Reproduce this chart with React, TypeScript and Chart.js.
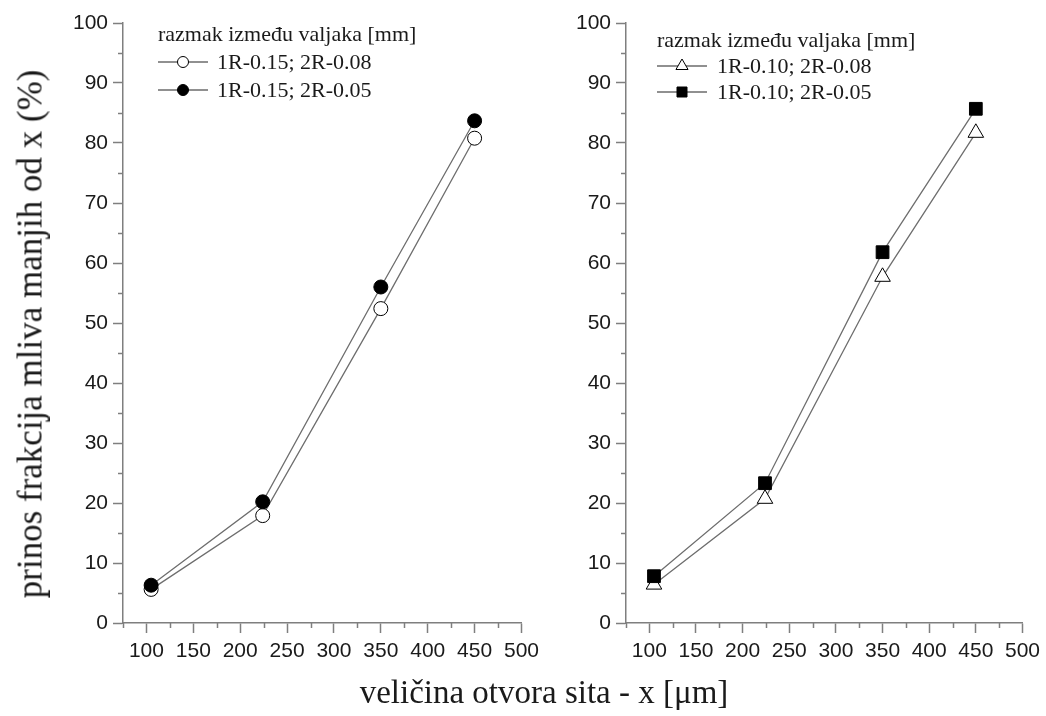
import React, { useEffect, useRef } from "react";
import { Chart, registerables } from "chart.js";

Chart.register(...registerables);

// ---- data ----
const sieveSizes = [105, 224, 350, 450];
const leftOpen = [5.6, 17.9, 52.4, 80.8];
const leftFilled = [6.3, 20.2, 56.0, 83.7];
const rightTriangle = [6.4, 20.7, 57.7, 81.7];
const rightSquare = [7.8, 23.3, 61.8, 85.7];

const xTickValues = [100, 150, 200, 250, 300, 350, 400, 450, 500];
const yTickValues = [0, 10, 20, 30, 40, 50, 60, 70, 80, 90, 100];

const legendTitle = "razmak između valjaka [mm]";
const leftLabels = ["1R-0.15; 2R-0.08", "1R-0.15; 2R-0.05"];
const rightLabels = ["1R-0.10; 2R-0.08", "1R-0.10; 2R-0.05"];

const yTitle = "prinos frakcija mliva manjih od x (%)";
const xTitle = "veličina otvora sita - x [μm]";

// ---- styling ----
const AXIS = "#7f7f7f";
const LINE = "#6e6e6e";
const TEXT = "#1a1a1a";
const SERIF = '"Liberation Serif", "Times New Roman", serif';
const SANS = '"Liberation Sans", Arial, sans-serif';

function drawMarker(ctx: CanvasRenderingContext2D, style: string, filled: boolean, x: number, y: number, r: number) {
  ctx.save();
  ctx.fillStyle = filled ? "#000" : "#fff";
  ctx.strokeStyle = "#000";
  ctx.lineWidth = 1;
  ctx.beginPath();
  if (style === "circle") {
    ctx.arc(x, y, r, 0, Math.PI * 2);
  } else if (style === "rect") {
    ctx.rect(x - r, y - r, 2 * r, 2 * r);
  } else {
    const h = r * 1.5;
    const w = r * Math.sqrt(3);
    ctx.moveTo(x, y - r);
    ctx.lineTo(x + w / 2, y - r + h);
    ctx.lineTo(x - w / 2, y - r + h);
    ctx.closePath();
  }
  ctx.fill();
  ctx.stroke();
  ctx.restore();
}

const legendPlugin = {
  id: "customLegend",
  afterDraw(chart: any, _args: any, opts: any) {
    const ctx = chart.ctx as CanvasRenderingContext2D;
    ctx.save();
    ctx.font = `${opts.fontSize}px ${SERIF}`;
    ctx.fillStyle = TEXT;
    ctx.textBaseline = "middle";
    ctx.textAlign = "left";
    ctx.fillText(opts.title, opts.x, opts.titleY);
    chart.data.datasets.forEach((ds: any, i: number) => {
      const y = opts.rowY[i];
      ctx.strokeStyle = "#222";
      ctx.lineWidth = 1.2;
      ctx.beginPath();
      ctx.moveTo(opts.x, y);
      ctx.lineTo(opts.x + opts.lineLen, y);
      ctx.stroke();
      drawMarker(ctx, ds.pointStyle, ds.pointBackgroundColor === "#000", opts.x + opts.lineLen / 2, y, opts.markerR[i]);
      ctx.fillStyle = TEXT;
      ctx.fillText(ds.label, opts.textX, y + 1);
    });
    ctx.restore();
  },
};

const minorTickPlugin = {
  id: "minorTicks",
  afterDraw(chart: any) {
    const ctx = chart.ctx as CanvasRenderingContext2D;
    const xs = chart.scales.x;
    const ys = chart.scales.y;
    const area = chart.chartArea;
    ctx.save();
    ctx.strokeStyle = AXIS;
    ctx.lineWidth = 1.5;
    const xMinor: number[] = [];
    for (let i = 0; i < xTickValues.length - 1; i++) xMinor.push((xTickValues[i] + xTickValues[i + 1]) / 2);
    const xStep = xTickValues[1] - xTickValues[0];
    if (xTickValues[0] - xStep / 2 >= xs.min) xMinor.push(xTickValues[0] - xStep / 2);
    xMinor.forEach((v) => {
      const px = Math.round(xs.getPixelForValue(v)) + 0.5;
      ctx.beginPath();
      ctx.moveTo(px, area.bottom);
      ctx.lineTo(px, area.bottom + 5);
      ctx.stroke();
    });
    for (let i = 0; i < yTickValues.length - 1; i++) {
      const v = (yTickValues[i] + yTickValues[i + 1]) / 2;
      const py = Math.round(ys.getPixelForValue(v)) + 0.5;
      ctx.beginPath();
      ctx.moveTo(area.left - 5, py);
      ctx.lineTo(area.left, py);
      ctx.stroke();
    }
    ctx.restore();
  },
};

function makeSeries(label: string, values: number[], style: string, filled: boolean, radius: number, order: number) {
  return {
    label,
    data: sieveSizes.map((x, i) => ({ x, y: values[i] })),
    borderColor: LINE,
    borderWidth: 1.3,
    pointStyle: style,
    pointRadius: radius,
    pointHoverRadius: radius,
    pointBackgroundColor: filled ? "#000" : "#fff",
    pointBorderColor: "#000",
    pointBorderWidth: 1,
    tension: 0,
    fill: false,
    order,
  };
}

function makeConfig(datasets: any[], yAxisWidth: number, padRight: number, legend: any): any {
  return {
    type: "line",
    data: { datasets },
    plugins: [legendPlugin, minorTickPlugin],
    options: {
      animation: false,
      responsive: false,
      maintainAspectRatio: false,
      events: [],
      layout: { padding: { left: 0, top: 23, right: padRight, bottom: 0 } },
      plugins: {
        legend: { display: false },
        tooltip: { enabled: false },
        title: { display: false },
        customLegend: legend,
      },
      scales: {
        x: {
          type: "linear",
          min: 75,
          max: 500,
          afterBuildTicks: (scale: any) => {
            scale.ticks = xTickValues.map((v) => ({ value: v }));
          },
          afterFit: (scale: any) => {
            scale.height = 93;
          },
          border: { display: true, color: AXIS, width: 1.5 },
          grid: { display: true, drawOnChartArea: false, drawTicks: true, tickLength: 10, tickColor: AXIS, tickWidth: 1.5 },
          ticks: { color: TEXT, font: { family: SANS, size: 21 }, padding: 6, maxRotation: 0, autoSkip: false },
        },
        y: {
          type: "linear",
          min: 0,
          max: 100,
          afterBuildTicks: (scale: any) => {
            scale.ticks = yTickValues.map((v) => ({ value: v }));
          },
          afterFit: (scale: any) => {
            scale.width = yAxisWidth;
          },
          border: { display: true, color: AXIS, width: 1.5 },
          grid: { display: true, drawOnChartArea: false, drawTicks: true, tickLength: 10, tickColor: AXIS, tickWidth: 1.5 },
          ticks: { color: TEXT, font: { family: SANS, size: 21 }, padding: 5, autoSkip: false },
        },
      },
    },
  };
}

export default function App() {
  const leftRef = useRef<HTMLCanvasElement | null>(null);
  const rightRef = useRef<HTMLCanvasElement | null>(null);

  useEffect(() => {
    const left = new Chart(
      leftRef.current as HTMLCanvasElement,
      makeConfig(
        [
          makeSeries(leftLabels[0], leftOpen, "circle", false, 7, 2),
          makeSeries(leftLabels[1], leftFilled, "circle", true, 7, 1),
        ],
        123,
        22,
        { title: legendTitle, x: 158, titleY: 35, rowY: [62, 90], lineLen: 50, textX: 217, fontSize: 22, markerR: [5.5, 5.5] }
      )
    );
    const right = new Chart(
      rightRef.current as HTMLCanvasElement,
      makeConfig(
        [
          makeSeries(rightLabels[0], rightTriangle, "triangle", false, 9, 2),
          makeSeries(rightLabels[1], rightSquare, "rect", true, 9, 1),
        ],
        81,
        21,
        { title: legendTitle, x: 112, titleY: 41, rowY: [66, 92], lineLen: 50, textX: 172, fontSize: 22, markerR: [7, 5] }
      )
    );
    return () => {
      left.destroy();
      right.destroy();
    };
  }, []);

  return (
    <div style={{ position: "fixed", left: 0, top: 0, width: 1046, height: 716, background: "#fff", overflow: "hidden" }}>
      <canvas ref={leftRef} width={545} height={716} style={{ position: "absolute", left: 0, top: 0, width: 545, height: 716 }} />
      <canvas ref={rightRef} width={501} height={716} style={{ position: "absolute", left: 545, top: 0, width: 501, height: 716 }} />
      <div
        style={{
          position: "absolute",
          left: 30,
          top: 334,
          transform: "translate(-50%, -50%) rotate(-90deg)",
          fontFamily: SERIF,
          fontSize: 35,
          color: TEXT,
          whiteSpace: "nowrap",
          lineHeight: 1,
        }}
      >
        {yTitle}
      </div>
      <div
        style={{
          position: "absolute",
          left: 544,
          top: 692,
          transform: "translate(-50%, -50%)",
          fontFamily: SERIF,
          fontSize: 33,
          color: TEXT,
          whiteSpace: "nowrap",
          lineHeight: 1,
        }}
      >
        {xTitle}
      </div>
    </div>
  );
}
